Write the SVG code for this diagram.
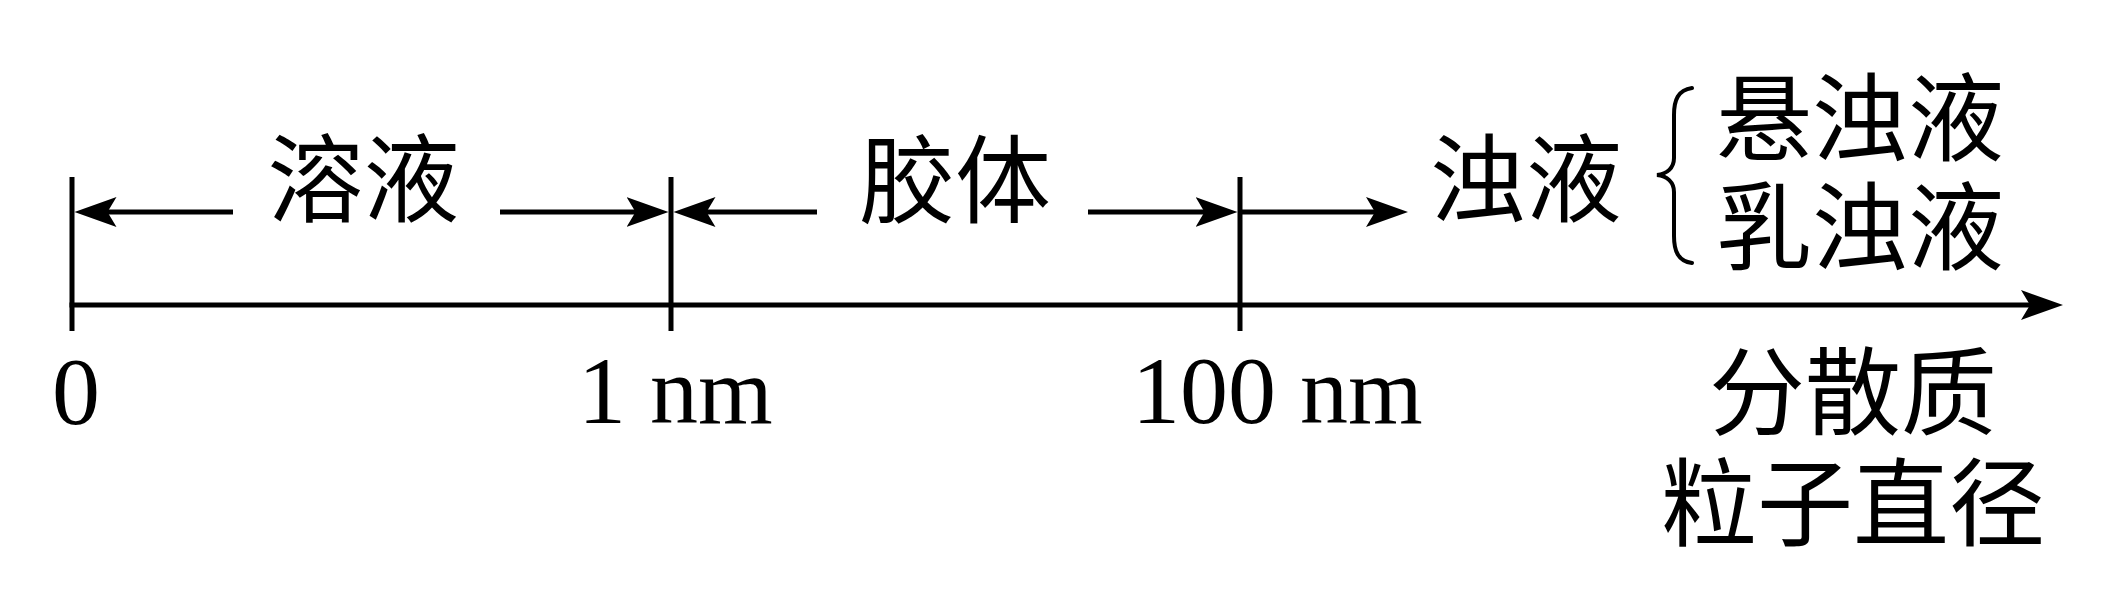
<svg xmlns="http://www.w3.org/2000/svg" width="2109" height="600" viewBox="0 0 2109 600">
  <style>
    .ln { stroke: #000; stroke-width: 5; fill: none; }
    .ar { stroke: #000; stroke-width: 5; fill: none; marker-end: url(#ah); }
    .cjk { font-family: "Liberation Serif", "Noto Sans CJK SC", sans-serif; font-size: 96px; fill: #000; text-anchor: middle; }
    .lat { font-family: "Liberation Serif", serif; font-size: 96px; fill: #000; }
    .brace { stroke: #000; stroke-width: 4; fill: none; stroke-linecap: round; }
  </style>
  <defs>
    <marker id="ah" markerUnits="userSpaceOnUse" markerWidth="44" markerHeight="30" viewBox="0 0 44 30" refX="12" refY="15" orient="auto">
      <path d="M0,0 L42,15 L0,30 L9,15 Z" fill="#000"/>
    </marker>
  </defs>
  <rect width="2109" height="600" fill="#fff"/>

  <g id="connectors">
    <line class="ar" x1="69.5" y1="305" x2="2033" y2="305"/>
    <line class="ln" x1="72" y1="177" x2="72" y2="331"/>
    <line class="ln" x1="671" y1="177" x2="671" y2="331"/>
    <line class="ln" x1="1240" y1="177" x2="1240" y2="331"/>
    <line class="ar" x1="233" y1="212" x2="104.5" y2="212"/>
    <line class="ar" x1="500" y1="212" x2="638.5" y2="212"/>
    <line class="ar" x1="817" y1="212" x2="703.5" y2="212"/>
    <line class="ar" x1="1088" y1="212" x2="1207.5" y2="212"/>
    <line class="ar" x1="1242" y1="212" x2="1378" y2="212"/>
  </g>

  <g id="solution"><text class="cjk" x="363.5" y="214">溶液</text></g>
  <g id="colloid"><text class="cjk" x="955" y="214.5">胶体</text></g>
  <g id="turbid"><text class="cjk" x="1526" y="214">浊液</text></g>
  <g id="brace"><path class="brace" d="M1692,88 C1678,90 1674,100 1674,115 L1674,158 C1674,168 1667,174 1657,175 C1667,176 1674,182 1674,192 L1674,236 C1674,251 1678,261 1692,263"/></g>
  <g id="suspension"><text class="cjk" x="1860" y="152.5">悬浊液</text></g>
  <g id="emulsion"><text class="cjk" x="1860" y="261.5">乳浊液</text></g>

  <g id="label-0"><text class="lat" x="76" y="424" text-anchor="middle">0</text></g>
  <g id="label-1nm"><text class="lat" x="578" y="423">1 nm</text></g>
  <g id="label-100nm"><text class="lat" x="1132" y="423">100 nm</text></g>
  <g id="axis-title">
    <text class="cjk" x="1853" y="426.5">分散质</text>
    <text class="cjk" x="1853" y="537.5">粒子直径</text>
  </g>
</svg>
